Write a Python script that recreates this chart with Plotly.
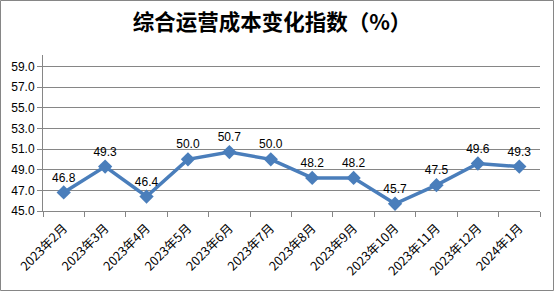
import plotly.graph_objects as go

categories = ["2023年2月", "2023年3月", "2023年4月", "2023年5月", "2023年6月", "2023年7月",
              "2023年8月", "2023年9月", "2023年10月", "2023年11月", "2023年12月", "2024年1月"]
values = [46.8, 49.3, 46.4, 50.0, 50.7, 50.0, 48.2, 48.2, 45.7, 47.5, 49.6, 49.3]
y_ticks = [45, 47, 49, 51, 53, 55, 57, 59]
title = "综合运营成本变化指数（%）"

W, H = 557, 293
L, R, T, B = 43, 17, 55, 82
pw, ph = W - L - R, H - T - B

def px_x(x):
    return (x - L) / pw

def px_y(y):
    return (H - B - y) / ph

fig = go.Figure()
fig.add_trace(go.Scatter(
    x=categories, y=values, mode="lines+markers+text",
    line=dict(color="#4A7EBB", width=3.5),
    marker=dict(symbol="diamond", size=11, color="#4A7EBB"),
    text=[f"{v:.1f}" for v in values], textposition="top center",
    textfont=dict(family="Liberation Sans, Arial, sans-serif", size=12, color="#000000"),
    cliponaxis=False, showlegend=False,
))

fig.update_layout(
    width=W, height=H,
    margin=dict(l=L, r=R, t=T, b=B),
    paper_bgcolor="white", plot_bgcolor="white",
    title=dict(text=title, x=272 / W, xref="container", xanchor="center", y=1 - 22.5 / H, yanchor="middle",
               font=dict(family="Noto Sans CJK SC", size=21.5, color="#000000", weight="bold")),
    xaxis=dict(type="category", tickangle=-45, tickson="boundaries", ticks="outside", ticklen=5,
               tickcolor="#868686", showline=True, linecolor="#868686", linewidth=1, showgrid=False,
               ticklabelstandoff=4,
               tickfont=dict(family="Noto Sans CJK SC", size=12.5, color="#000000"), range=[-0.5, 11.5]),
    yaxis=dict(range=[45, 60.1], tickvals=y_ticks, tickformat=".1f", ticks="outside", ticklen=5,
               tickcolor="#868686", showline=True, linecolor="#868686", linewidth=1,
               showgrid=True, gridcolor="#868686", gridwidth=1, zeroline=False,
               tickfont=dict(family="Liberation Sans, Arial, sans-serif", size=12, color="#000000")),
    shapes=[dict(type="rect", xref="paper", yref="paper",
                 x0=px_x(0.5), x1=px_x(553.5), y0=px_y(290.5), y1=px_y(0.5),
                 line=dict(color="#868686", width=1), fillcolor="rgba(0,0,0,0)", layer="below")],
)

fig.write_html("out.html")
